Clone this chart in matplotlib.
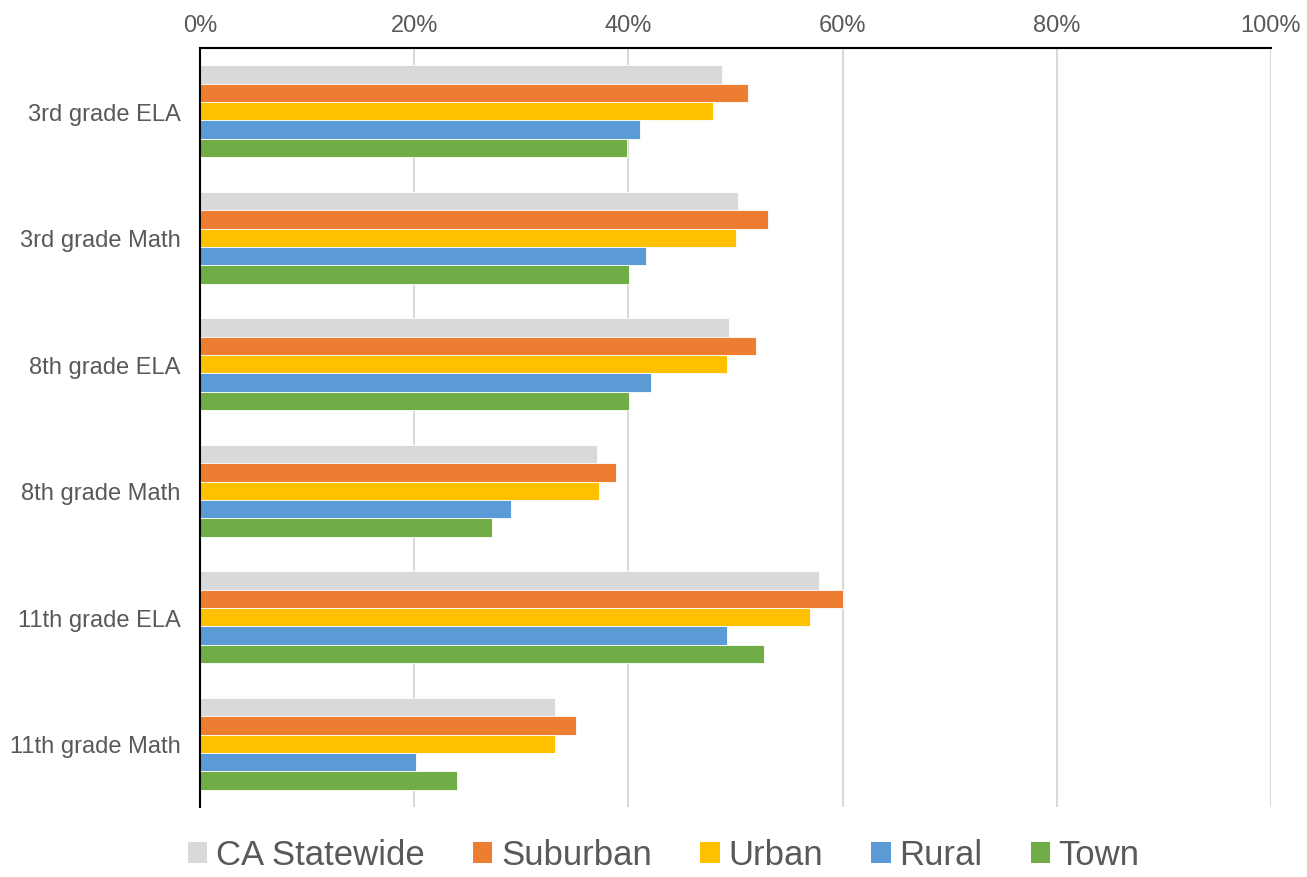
import matplotlib
matplotlib.use('Agg')
from matplotlib import pyplot as plt
from matplotlib.patches import Patch
import numpy as np

plt.rcParams['font.family'] = ['Liberation Sans', 'DejaVu Sans']

# data (share proficient, %)
categories = ['3rd grade ELA', '3rd grade Math', '8th grade ELA',
              '8th grade Math', '11th grade ELA', '11th grade Math']
series_names = ['CA Statewide', 'Suburban', 'Urban', 'Rural', 'Town']
ca_statewide = [48.7, 50.2, 49.4, 37.1, 57.8, 33.1]
suburban = [51.2, 53.0, 51.9, 38.8, 60.0, 35.1]
urban = [47.9, 50.0, 49.2, 37.3, 57.0, 33.1]
rural = [41.1, 41.6, 42.1, 29.0, 49.2, 20.2]
town = [39.9, 40.1, 40.1, 27.3, 52.7, 24.0]
x_ticks = [0, 20, 40, 60, 80, 100]

colors = ['#d9d9d9', '#ed7d31', '#ffc000', '#5b9bd5', '#70ad47']
all_series = [ca_statewide, suburban, urban, rural, town]

fig = plt.figure(figsize=(13.07, 8.78), dpi=100)
ax = fig.add_axes([200 / 1307, 1 - 808 / 878, 1071 / 1307, 759 / 878])

bar_h = 0.146
y = np.arange(len(categories))
for i, (vals, col) in enumerate(zip(all_series, colors)):
    offset = (i - 2) * bar_h
    ax.barh(y + offset, vals, height=bar_h, color=col, edgecolor='white',
            linewidth=0.6, zorder=3)

ax.set_xlim(0, 100)
ax.set_ylim(len(categories) - 0.5, -0.5)
ax.set_yticks(y)
ax.set_yticklabels(categories)
ax.set_xticks(x_ticks)
ax.set_xticklabels([f'{t}%' for t in x_ticks])
ax.xaxis.tick_top()
ax.tick_params(axis='both', length=0, labelsize=17, colors='#595959')
ax.tick_params(axis='x', pad=9)
ax.tick_params(axis='y', pad=14)

ax.grid(axis='x', color='#d9d9d9', linewidth=1.5, zorder=0)
for side in ['right', 'bottom']:
    ax.spines[side].set_visible(False)
ax.spines['top'].set_color('black')
ax.spines['left'].set_color('black')
ax.spines['top'].set_linewidth(1.5)
ax.spines['left'].set_linewidth(1.5)
ax.spines['top'].set_zorder(4)
ax.spines['left'].set_zorder(4)

handles = [Patch(facecolor=c, edgecolor='none') for c in colors]
fig.legend(handles, series_names, loc='center',
           bbox_to_anchor=(0.508, 1 - 856 / 878),
           ncol=5, frameon=False, fontsize=25, labelcolor='#595959',
           handlelength=0.55, handleheight=0.55, handletextpad=0.25,
           columnspacing=1.4)

fig.savefig('out.png', dpi=100, facecolor='white')
